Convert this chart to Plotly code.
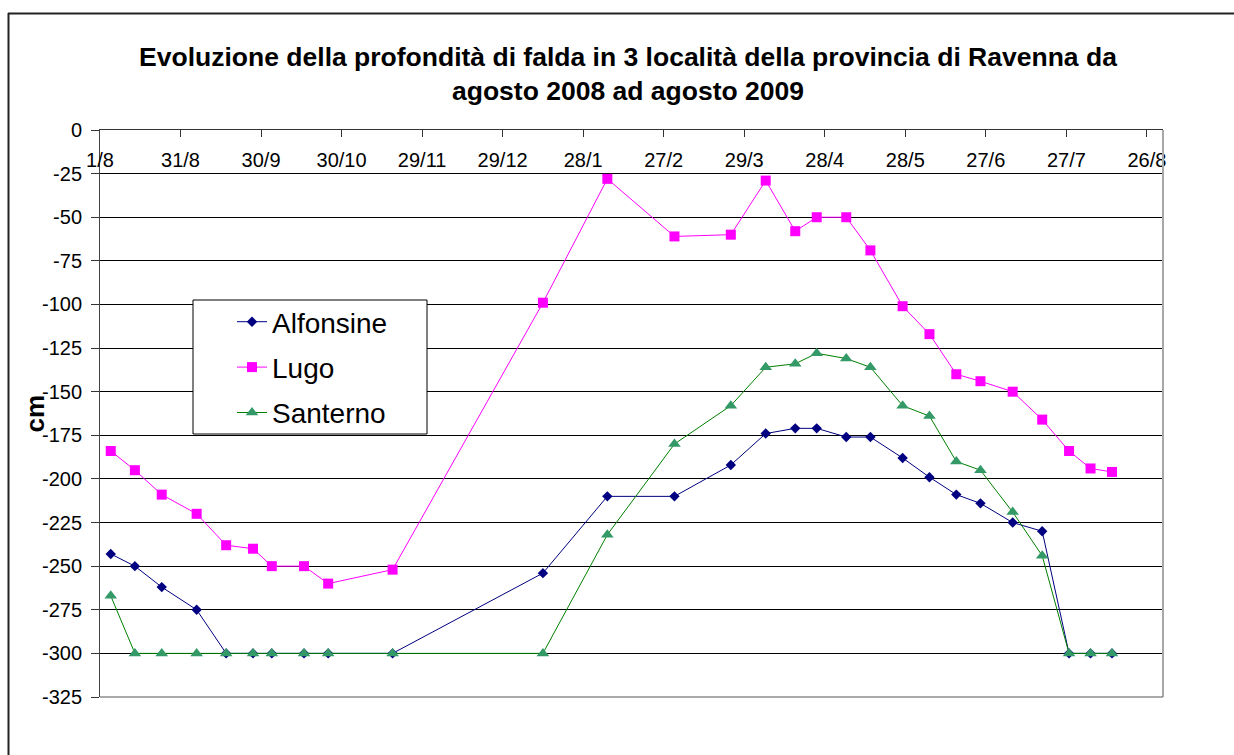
import plotly.graph_objects as go

# ---- data ----
dates = ['2008-08-05', '2008-08-14', '2008-08-24', '2008-09-06', '2008-09-17', '2008-09-27',
         '2008-10-04', '2008-10-16', '2008-10-25', '2008-11-18', '2009-01-13', '2009-02-06',
         '2009-03-03', '2009-03-24', '2009-04-06', '2009-04-17', '2009-04-25', '2009-05-06',
         '2009-05-15', '2009-05-27', '2009-06-06', '2009-06-16', '2009-06-25', '2009-07-07',
         '2009-07-18', '2009-07-28', '2009-08-05', '2009-08-13']

alfonsine = [-243, -250, -262, -275, -300, -300, -300, -300, -300, -300, -254, -210,
             -210, -192, -174, -171, -171, -176, -176, -188, -199, -209, -214, -225,
             -230, -300, -300, -300]

lugo = [-184, -195, -209, -220, -238, -240, -250, -250, -260, -252, -99, -28,
        -61, -60, -29, -58, -50, -50, -69, -101, -117, -140, -144, -150,
        -166, -184, -194, -196]

santerno = [-267, -300, -300, -300, -300, -300, -300, -300, -300, -300, -300, -232,
            -180, -158, -136, -134, -128, -131, -136, -158, -164, -190, -195, -219,
            -244, -300, -300, -300]

x_tick_dates = ['2008-08-01', '2008-08-31', '2008-09-30', '2008-10-30', '2008-11-29', '2008-12-29',
                '2009-01-28', '2009-02-27', '2009-03-29', '2009-04-28', '2009-05-28', '2009-06-27',
                '2009-07-27', '2009-08-26']
x_tick_labels = ['1/8', '31/8', '30/9', '30/10', '29/11', '29/12', '28/1', '27/2', '29/3',
                 '28/4', '28/5', '27/6', '27/7', '26/8']
x_range = ['2008-08-01', '2009-09-01']

y_ticks = [0, -25, -50, -75, -100, -125, -150, -175, -200, -225, -250, -275, -300, -325]
y_tick_labels = [str(v) for v in y_ticks]
y_range = [-325, 0]

title_text = ("Evoluzione della profondità di falda in 3 località della provincia di Ravenna da"
              "<br>agosto 2008 ad agosto 2009")

FONT = "Liberation Sans, Arial, sans-serif"
W, H = 1234, 755
L, T = 100, 130
PW, PH = 1063, 567
R, B = W - L - PW, H - T - PH


def px_x(x):                 # page pixel -> paper x
    return (x - L) / PW


def px_y(y):                 # page pixel -> paper y
    return 1 - (y - T) / PH


fig = go.Figure()
fig.add_trace(go.Scatter(
    x=dates, y=alfonsine, name='Alfonsine', mode='lines+markers', legendgroup='a',
    line=dict(color='#000080', width=1),
    marker=dict(symbol='diamond', size=8, color='#000080')))
fig.add_trace(go.Scatter(
    x=dates, y=lugo, name='Lugo', mode='lines+markers', legendgroup='b',
    line=dict(color='#FF00FF', width=1),
    marker=dict(symbol='square', size=10, color='#FF00FF')))
fig.add_trace(go.Scatter(
    x=dates, y=santerno, name='Santerno', mode='lines+markers', legendgroup='c',
    line=dict(color='#008000', width=1),
    marker=dict(symbol='triangle-up', size=11, color='#339966')))

fig.update_layout(
    width=W, height=H,
    margin=dict(l=L, r=R, t=T, b=B, pad=0),
    paper_bgcolor='white', plot_bgcolor='white',
    font=dict(family=FONT, color='black', size=20),
    title=dict(text=title_text, x=628 / W, xref='container', xanchor='center',
               y=1 - 66 / H, yref='container', yanchor='top',
               font=dict(family=FONT, size=26.5, color='black', weight='bold')),
    showlegend=True,
    legend=dict(x=px_x(193), y=px_y(297), xanchor='left', yanchor='top',
                bgcolor='rgba(0,0,0,0)', borderwidth=0,
                font=dict(family=FONT, size=28, color='black'),
                tracegroupgap=6, indentation=39),
    xaxis=dict(type='date', range=x_range, side='top',
               tickvals=x_tick_dates, ticktext=x_tick_labels,
               ticks='inside', ticklen=7, tickcolor='#333', tickwidth=1,
               ticklabelposition='inside', ticklabeloverflow='allow',
               ticklabelstandoff=17,
               tickfont=dict(family=FONT, size=20, color='black'),
               showline=True, linecolor='#333', linewidth=1,
               showgrid=False, zeroline=False, fixedrange=True),
    yaxis=dict(range=y_range, tickvals=y_ticks, ticktext=y_tick_labels,
               ticks='outside', ticklen=8, tickcolor='#333', tickwidth=1,
               ticklabelstandoff=5,
               tickfont=dict(family=FONT, size=20, color='black'),
               showline=True, linecolor='#444', linewidth=1,
               showgrid=True, gridcolor='black', gridwidth=1,
               zeroline=False, fixedrange=True),
    shapes=[
        # legend box
        dict(type='rect', xref='paper', yref='paper',
             x0=px_x(193), x1=px_x(427), y0=px_y(434), y1=px_y(300),
             fillcolor='white', line=dict(color='black', width=1), layer='above'),
        # plot area right and bottom border (gray)
        dict(type='line', xref='paper', yref='paper', x0=1, x1=1, y0=0, y1=1,
             line=dict(color='#a8a8a8', width=2), layer='above'),
        dict(type='line', xref='paper', yref='paper', x0=0, x1=1, y0=0, y1=0,
             line=dict(color='#8c8c8c', width=1.5), layer='above'),
        # outer chart border: top and left edges only (the rest lies outside the picture)
        dict(type='line', xref='paper', yref='paper',
             x0=px_x(8), x1=px_x(1240), y0=px_y(13.5), y1=px_y(13.5),
             line=dict(color='#222', width=2), layer='above'),
        dict(type='line', xref='paper', yref='paper',
             x0=px_x(8.5), x1=px_x(8.5), y0=px_y(13), y1=px_y(760),
             line=dict(color='#222', width=2), layer='above'),
    ],
    annotations=[
        dict(text='<b>cm</b>', xref='paper', yref='paper', x=px_x(34), y=0.5,
             xanchor='center', yanchor='middle', textangle=-90, showarrow=False,
             font=dict(family=FONT, size=26, color='black')),
    ],
)

fig.write_html(
    "out.html",
    config={'displayModeBar': False},
    post_script="document.body.style.margin='0';document.body.style.overflow='hidden';",
)
